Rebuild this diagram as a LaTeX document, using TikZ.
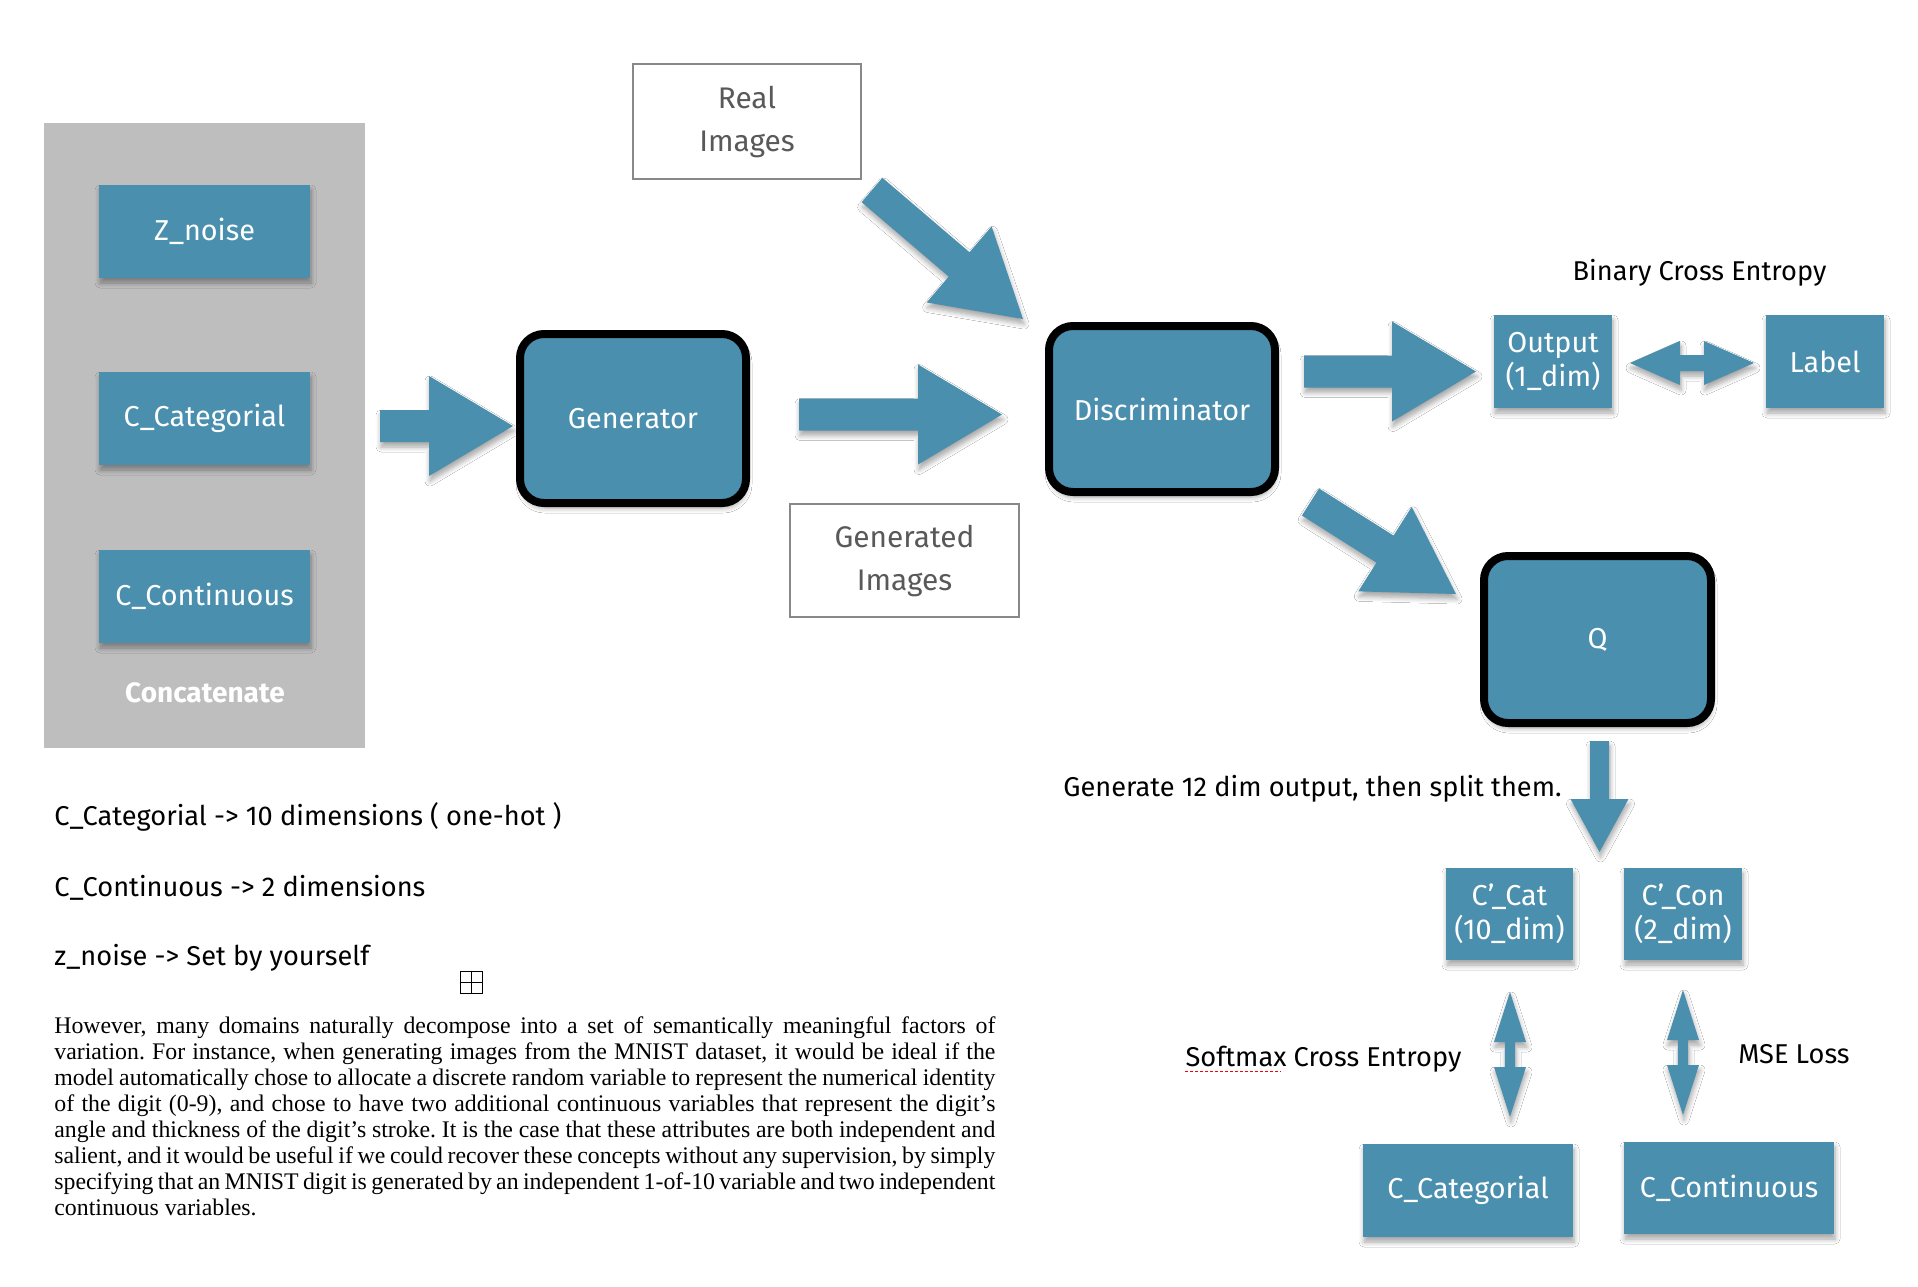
\documentclass[tikz,border=0pt]{standalone}
\usepackage{fontspec}
\setmainfont{Liberation Serif}
\newfontfamily\handfont{Fira Sans}
\usepackage{tikz}
\usetikzlibrary{calc,shadows,shadows.blur}
\definecolor{boxblue}{RGB}{74,143,174}
\definecolor{concatgray}{RGB}{190,190,190}
\definecolor{framegray}{RGB}{136,136,136}

\begin{document}
\begin{tikzpicture}[x=0.5pt,y=-0.5pt]
	\tikzset{
	    fat shaft/.code={\def\fatshaft{#1}}, fat shaft=8pt,   % half width of the shaft
	    fat head/.code={\def\fathead{#1}}, fat head=25pt,     % half width of the head
	    fat tip/.code={\def\fattip{#1}}, fat tip=42pt,        % length of the head
	    fat arrow/.style n args={2}{
	        insert path={
	            let \p0 = ($(#2)!\fattip!(#1)$) in   % base of the head
	            ($(#1)!\fatshaft!90:(#2)$) -- ($(\p0)!\fatshaft!90:(#2)$) -- ($(\p0)!\fathead!90:(#2)$)
	            -- (#2) -- ($(\p0)!\fathead!-90:(#2)$) -- ($(\p0)!\fatshaft!-90:(#2)$) -- ($(#1)!\fatshaft!-90:(#2)$) -- cycle
	        }},
	    fat double/.style n args={2}{
	        insert path={
	            let \p1 = ($(#1)!\fattip!(#2)$),     % base of first head
	                \p2 = ($(#2)!\fattip!(#1)$) in   % base of second head
	            (#1) -- ($(\p1)!\fathead!90:(#2)$) -- ($(\p1)!\fatshaft!90:(#2)$) -- ($(\p2)!\fatshaft!90:(#2)$) -- ($(\p2)!\fathead!90:(#2)$)
	            -- (#2) -- ($(\p2)!\fathead!-90:(#2)$) -- ($(\p2)!\fatshaft!-90:(#2)$) -- ($(\p1)!\fatshaft!-90:(#2)$) -- ($(\p1)!\fathead!-90:(#2)$) -- cycle
	        }},
	    shade below/.style={blur shadow={shadow xshift=0.5pt,shadow yshift=-2.5pt,shadow blur radius=2.5pt,shadow blur steps=6,shadow opacity=35}},
	    flat/.style={fill=boxblue,text=white,font=\handfont\fontsize{14.4}{17}\selectfont,align=center,inner sep=0pt,shade below},
	    rough/.style={flat,draw=black,line width=4pt,rounded corners=12pt},
	    frame/.style={draw=framegray,line width=1.2pt,text=black!65,font=\handfont\fontsize{14.9}{21.5}\selectfont,align=center,inner sep=0pt},
	    note/.style={font=\handfont\fontsize{13.6}{16}\selectfont,inner sep=0pt},
	    blockarrow/.style={fill=boxblue,shade below}}
	\useasboundingbox (0,0) rectangle (1918,1286);
	\fill[white] (0,0) rectangle (1918,1286);
	% latent inputs
	\node[fill=concatgray,minimum width=160.5pt,minimum height=312.5pt] (concat) at (204.5,435.5) {};
	\node[flat,minimum width=105.5pt,minimum height=46.5pt] (znoise) at (204.5,231.5) {Z\_noise};
	\node[flat,minimum width=105.5pt,minimum height=46.5pt] (ccat) at (204.5,418.5) {C\_Categorial};
	\node[flat,minimum width=105.5pt,minimum height=46.5pt] (ccon) at (204.5,596.5) {C\_Continuous};
	\node[text=white,font=\handfont\bfseries\fontsize{14}{16}\selectfont] (concatlbl) at (205,693) {Concatenate};
	% networks
	\node[rough,minimum width=113pt,minimum height=84.5pt] (gen) at (633,418.5) {Generator};
	\node[rough,minimum width=113pt,minimum height=83pt] (disc) at (1162,409) {Discriminator};
	\node[rough,minimum width=113.5pt,minimum height=83.5pt] (q) at (1597.5,639.5) {Q};
	\node[frame,minimum width=114pt,minimum height=57.5pt] (real) at (747,121.5) {Real\\Images};
	\node[frame,minimum width=114.5pt,minimum height=56.5pt] (gimg) at (904.5,560.5) {Generated\\Images};
	% outputs
	\node[flat,minimum width=59pt,minimum height=46.5pt] (out) at (1553,361.5) {Output\\(1\_dim)};
	\node[flat,minimum width=59pt,minimum height=46.5pt] (label) at (1825,361.5) {Label};
	\node[flat,minimum width=63.5pt,minimum height=46pt] (catq) at (1509.5,914) {C’\_Cat\\(10\_dim)};
	\node[flat,minimum width=59pt,minimum height=46pt] (conq) at (1683,914) {C’\_Con\\(2\_dim)};
	\node[flat,minimum width=105pt,minimum height=46.5pt] (cattrue) at (1468,1190.5) {C\_Categorial};
	\node[flat,minimum width=105pt,minimum height=46pt] (contrue) at (1729,1188) {C\_Continuous};
	% losses and notes
	\node[note] (bce) at (1699.5,273) {Binary Cross Entropy};
	\node[note] (split) at (1312.5,789) {Generate 12 dim output, then split them.};
	\node[note] (sce) at (1323.5,1059) {Softmax Cross Entropy};
	\draw[red,line width=0.8pt,dash pattern=on 1.5pt off 1pt] ($(sce.base west)+(0,5)$) -- ++(96,0);
	\node[note] (mse) at (1794,1054) {MSE Loss};
	\node[note,anchor=west] (catdim) at (54,817) {C\_Categorial -> 10 dimensions ( one-hot )};
	\node[note,anchor=west] (condim) at (54,888) {C\_Continuous -> 2 dimensions};
	\node[note,anchor=west] (zdim) at (54,958) {z\_noise -> Set by yourself};
	\node[draw,line width=0.8pt,minimum size=11pt,inner sep=0pt] (plusbox) at (471.5,982.5) {};
	\draw[line width=0.8pt] (plusbox.north) -- (plusbox.south) (plusbox.west) -- (plusbox.east);
	\node[anchor=north west,text width=470.5pt,inner sep=0pt,align=justify,font=\fontsize{11.9}{13.05}\selectfont\frenchspacing] (para) at (54,1016)
	    {However, many domains naturally decompose into a set of semantically meaningful factors of\linebreak
	    variation. For instance, when generating images from the MNIST dataset, it would be ideal if the\linebreak
	    model automatically chose to allocate a discrete random variable to represent the numerical identity\linebreak
	    of the digit (0-9), and chose to have two additional continuous variables that represent the digit’s\linebreak
	    angle and thickness of the digit’s stroke. It is the case that these attributes are both independent and\linebreak
	    salient, and it would be useful if we could recover these concepts without any supervision, by simply\linebreak
	    specifying that an MNIST digit is generated by an independent 1-of-10 variable and two independent\linebreak
	    continuous variables.};
	% block arrows
	\coordinate (a1s) at (380,426);      \coordinate (a1e) at (513,426);
	\coordinate (a2s) at (799,414.5);    \coordinate (a2e) at (1002,414.5);
	\coordinate (a3s) at (872,190);      \coordinate (a3e) at (1023,319);
	\coordinate (a4s) at (1304,371.5);   \coordinate (a4e) at (1476,371.5);
	\coordinate (a5s) at (1310.5,502);   \coordinate (a5e) at (1456,594);
	\coordinate (a6s) at (1599.5,741);   \coordinate (a6e) at (1599.5,852);
	\coordinate (d1s) at (1630,363);     \coordinate (d1e) at (1754,363);
	\coordinate (d2s) at (1510,992);     \coordinate (d2e) at (1510,1117);
	\coordinate (d3s) at (1683,990);     \coordinate (d3e) at (1683,1115);
	\path[blockarrow,fat arrow={a1s}{a1e}];
	\path[blockarrow,fat arrow={a2s}{a2e}];
	\path[blockarrow,fat arrow={a3s}{a3e}];
	\path[blockarrow,fat arrow={a4s}{a4e}];
	\path[blockarrow,fat arrow={a5s}{a5e}];
	\path[blockarrow,fat shaft=4.75pt,fat head=14.5pt,fat tip=26.5pt,fat arrow={a6s}{a6e}];
	\path[blockarrow,fat shaft=4pt,fat head=11pt,fat tip=25pt,fat double={d1s}{d1e}];
	\path[blockarrow,fat shaft=2.6pt,fat head=8pt,fat tip=25pt,fat double={d2s}{d2e}];
	\path[blockarrow,fat shaft=2.6pt,fat head=8pt,fat tip=25pt,fat double={d3s}{d3e}];
\end{tikzpicture}
\end{document}
